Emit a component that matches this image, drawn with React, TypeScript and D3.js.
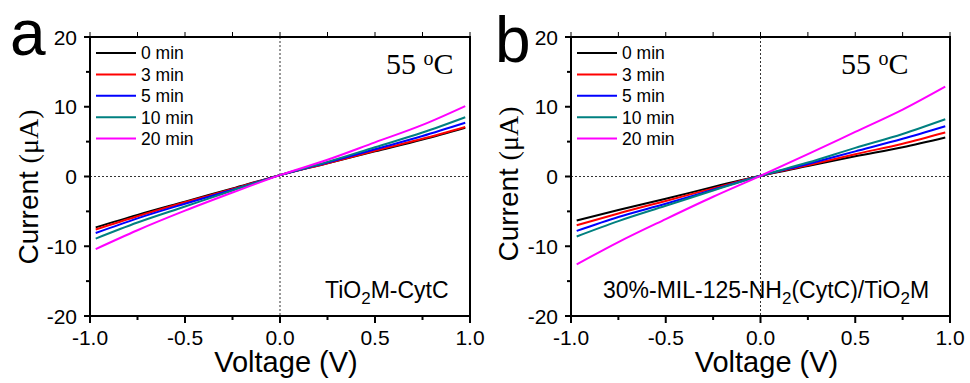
import React from "react";
import * as d3 from "d3";

// I–V sweeps (voltage in V, current in µA) for each exposure time at 55 °C
const voltages = [-0.97, -0.75, -0.5, -0.25, 0, 0.25, 0.5, 0.75, 0.975];
const seriesNames = ["0 min", "3 min", "5 min", "10 min", "20 min"];
const seriesColors = ["#000000", "#ff0000", "#0000ff", "#008080", "#ff00ff"];

// Panel a: TiO2M-CytC
const panelA0 = [-7.3, -5.5, -3.6, -1.7, 0.2, 1.9, 3.6, 5.3, 7.0];
const panelA3 = [-7.6, -5.7, -3.7, -1.8, 0.2, 1.9, 3.7, 5.4, 7.1];
const panelA5 = [-8.1, -6.0, -3.9, -1.9, 0.2, 2.0, 3.9, 5.8, 7.7];
const panelA10 = [-8.9, -6.6, -4.3, -2.0, 0.2, 2.1, 4.2, 6.3, 8.5];
const panelA20 = [-10.4, -7.7, -4.9, -2.3, 0.2, 2.4, 4.9, 7.4, 10.1];

// Panel b: 30%-MIL-125-NH2(CytC)/TiO2M
const panelB0 = [-6.3, -4.8, -3.2, -1.5, 0.1, 1.5, 2.9, 4.2, 5.6];
const panelB3 = [-7.0, -5.3, -3.5, -1.7, 0.1, 1.6, 3.2, 4.7, 6.3];
const panelB5 = [-7.8, -5.8, -3.9, -1.9, 0.1, 1.8, 3.6, 5.4, 7.2];
const panelB10 = [-8.6, -6.4, -4.2, -2.0, 0.1, 2.0, 4.1, 6.1, 8.2];
const panelB20 = [-12.6, -9.4, -6.1, -2.9, 0.1, 3.2, 6.4, 9.6, 12.9];

const xMajorTicks = [-1.0, -0.5, 0.0, 0.5, 1.0];
const xMinorTicks = [-0.75, -0.25, 0.25, 0.75];
const yMajorTicks = [-20, -10, 0, 10, 20];
const yMinorTicks = [-15, -5, 5, 15];

const SANS = "'Liberation Sans', Arial, sans-serif";
const SERIF = "'Liberation Serif', 'Times New Roman', serif";

type PanelProps = {
  left: number;
  right: number;
  letter: string;
  letterX: number;
  letterY: number;
  series: number[][];
  sampleStart: number;
  sample: React.ReactNode;
  titleX: number;
  titleY: number;
  tempX: number;
};

function Panel(p: PanelProps) {
  const top = 37;
  const bottom = 316;
  const x = d3.scaleLinear().domain([-1, 1]).range([p.left, p.right]);
  const y = d3.scaleLinear().domain([-20, 20]).range([bottom, top]);
  const line = d3
    .line<[number, number]>()
    .x((d) => x(d[0]))
    .y((d) => y(d[1]))
    .curve(d3.curveMonotoneX);

  return (
    <g>
      {/* zero reference lines */}
      <line x1={p.left} x2={p.right} y1={y(0)} y2={y(0)} stroke="#333" strokeWidth={1} strokeDasharray="2,2" />
      <line x1={x(0)} x2={x(0)} y1={top} y2={bottom} stroke="#333" strokeWidth={1} strokeDasharray="2,2" />

      {p.series.map((vals, i) => (
        <path
          key={i}
          d={line(voltages.map((v, j) => [v, vals[j]] as [number, number])) || ""}
          fill="none"
          stroke={seriesColors[i]}
          strokeWidth={2}
        />
      ))}

      {/* frame */}
      <rect x={p.left} y={top} width={p.right - p.left} height={bottom - top} fill="none" stroke="#000" strokeWidth={2} />

      {/* bottom axis */}
      {xMajorTicks.map((t) => (
        <g key={"xM" + t}>
          <line x1={x(t)} x2={x(t)} y1={bottom} y2={bottom + 7} stroke="#000" strokeWidth={2} />
          <line x1={x(t)} x2={x(t)} y1={top} y2={top - 5} stroke="#000" strokeWidth={1} />
          <text x={x(t)} y={345} textAnchor="middle" fontFamily={SANS} fontSize={21}>
            {t.toFixed(1)}
          </text>
        </g>
      ))}
      {xMinorTicks.map((t) => (
        <g key={"xm" + t}>
          <line x1={x(t)} x2={x(t)} y1={bottom} y2={bottom + 4} stroke="#000" strokeWidth={2} />
          <line x1={x(t)} x2={x(t)} y1={top} y2={top - 5} stroke="#000" strokeWidth={1} />
        </g>
      ))}

      {/* left axis */}
      {yMajorTicks.map((t) => (
        <g key={"yM" + t}>
          <line x1={p.left - 6} x2={p.left} y1={y(t)} y2={y(t)} stroke="#000" strokeWidth={2} />
          <text x={p.left - 13} y={y(t) + 7.5} textAnchor="end" fontFamily={SANS} fontSize={21}>
            {t}
          </text>
        </g>
      ))}
      {yMinorTicks.map((t) => (
        <line key={"ym" + t} x1={p.left - 4} x2={p.left} y1={y(t)} y2={y(t)} stroke="#000" strokeWidth={2} />
      ))}

      {/* axis titles */}
      <text x={(p.left + p.right) / 2 + 6} y={372} textAnchor="middle" fontFamily={SANS} fontSize={29}>
        Voltage (V)
      </text>
      <text
        transform={`translate(${p.titleX},${p.titleY}) rotate(-90)`}
        textAnchor="middle"
        fontSize={28}
      >
        <tspan fontFamily={SANS}>Current </tspan>
        <tspan fontFamily={SERIF}>(μA)</tspan>
      </text>

      {/* legend */}
      {seriesNames.map((name, i) => {
        const ly = 53 + i * 21.4;
        return (
          <g key={name}>
            <line x1={p.left + 6} x2={p.left + 46} y1={ly} y2={ly} stroke={seriesColors[i]} strokeWidth={2} />
            <text x={p.left + 51} y={ly + 6.3} fontFamily={SANS} fontSize={17.5}>
              {name}
            </text>
          </g>
        );
      })}

      {/* temperature */}
      <text x={p.tempX} y={74} fontFamily={SERIF} fontSize={30}>
        55{" "}
        <tspan fontSize={20} dy={-9}>o</tspan>
        <tspan dy={9}>C</tspan>
      </text>

      {/* sample name */}
      <text x={p.sampleStart} y={298} fontFamily={SANS} fontSize={23}>
        {p.sample}
      </text>

      {/* panel letter */}
      <text x={p.letterX} y={p.letterY} fontFamily={SANS} fontSize={64}>
        {p.letter}
      </text>
    </g>
  );
}

export default function App() {
  return (
    <svg width={970} height={383} style={{ position: "absolute", left: 0, top: 0, background: "#fff" }}>
      <rect width={970} height={383} fill="#fff" />
      <Panel
        left={90}
        right={470}
        letter="a"
        letterX={10}
        letterY={55}
        series={[panelA0, panelA3, panelA5, panelA10, panelA20]}
        sampleStart={325}
        sample={
          <>
            TiO<tspan fontSize={17} dy={6}>2</tspan>
            <tspan dy={-6}>M-CytC</tspan>
          </>
        }
        titleX={38}
        titleY={187}
        tempX={386}
      />
      <Panel
        left={571}
        right={950}
        letter="b"
        letterX={495}
        letterY={62}
        series={[panelB0, panelB3, panelB5, panelB10, panelB20]}
        sampleStart={603}
        sample={
          <>
            30%-MIL-125-NH<tspan fontSize={17} dy={6}>2</tspan>
            <tspan dy={-6}>(CytC)/TiO</tspan>
            <tspan fontSize={17} dy={6}>2</tspan>
            <tspan dy={-6}>M</tspan>
          </>
        }
        titleX={518}
        titleY={184}
        tempX={841}
      />
    </svg>
  );
}
